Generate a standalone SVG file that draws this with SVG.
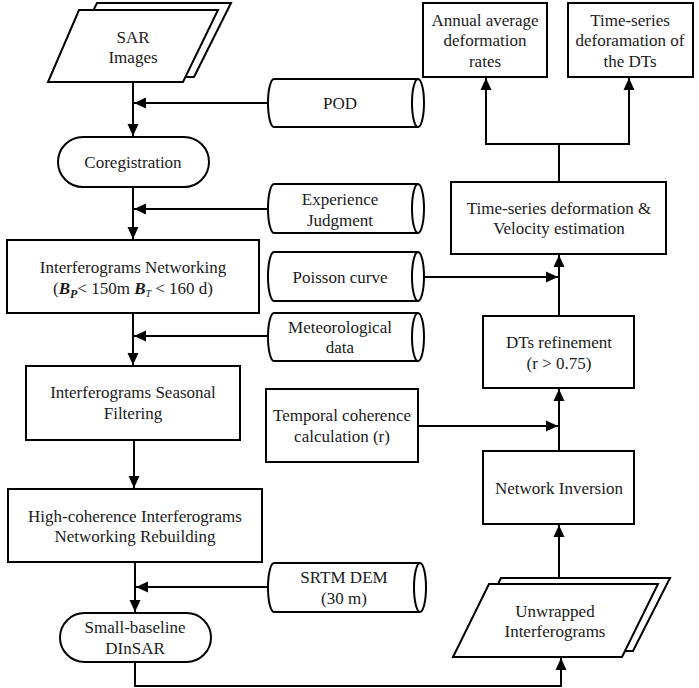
<svg xmlns="http://www.w3.org/2000/svg" width="699" height="688" viewBox="0 0 699 688">
<style>
.s{fill:#fff;stroke:#000;stroke-width:2}
.c{fill:none;stroke:#000;stroke-width:2}
text{font-family:"Liberation Serif","Times New Roman",serif;font-size:17px;fill:#1a1a1a;text-anchor:middle}
.bi{font-weight:bold;font-style:italic}
</style>
<defs>
<marker id="a" markerUnits="userSpaceOnUse" markerWidth="13" markerHeight="12" refX="12" refY="6" orient="auto">
<path d="M0,0.5 L12,6 L0,11.5 z" fill="#000"/>
</marker>
</defs>
<rect width="699" height="688" fill="#fff"/>
<g id="connectors">
<path class="c" d="M133,82 V136" marker-end="url(#a)"/>
<path class="c" d="M268,103 H134" marker-end="url(#a)"/>
<path class="c" d="M133,187 V239" marker-end="url(#a)"/>
<path class="c" d="M268,209 H134" marker-end="url(#a)"/>
<path class="c" d="M133,313 V365" marker-end="url(#a)"/>
<path class="c" d="M268,336 H134" marker-end="url(#a)"/>
<path class="c" d="M134,440 V488" marker-end="url(#a)"/>
<path class="c" d="M135,562 V612" marker-end="url(#a)"/>
<path class="c" d="M268,587 H136" marker-end="url(#a)"/>
<path class="c" d="M135,662 V686 H561 V658" marker-end="url(#a)"/>
<path class="c" d="M559,578 V525" marker-end="url(#a)"/>
<path class="c" d="M559,451 V389" marker-end="url(#a)"/>
<path class="c" d="M418,426 H558" marker-end="url(#a)"/>
<path class="c" d="M559,316 V255" marker-end="url(#a)"/>
<path class="c" d="M424,277 H558" marker-end="url(#a)"/>
<path class="c" d="M559,182 V144 H486 V78" marker-end="url(#a)"/>
<path class="c" d="M559,144 H629 V78" marker-end="url(#a)"/>
</g>
<g id="sar">
<polygon class="s" points="97,3 231,3 194,77 60,77"/>
<polygon class="s" points="79,10 218,10 183,82 48,82"/>
<text x="133" y="43">SAR</text>
<text x="133" y="63">Images</text>
</g>
<g id="pod">
<path class="s" d="M418,79 H274 A6,24 0 0 0 274,127 H418"/>
<ellipse class="s" cx="418" cy="103" rx="6" ry="24"/>
<text x="340" y="109">POD</text>
</g>
<g id="coreg">
<rect class="s" x="58" y="137" width="151" height="50" rx="25"/>
<text x="133" y="168">Coregistration</text>
</g>
<g id="experience">
<path class="s" d="M418,184 H274 A6,24.5 0 0 0 274,233 H418"/>
<ellipse class="s" cx="418" cy="208.5" rx="6" ry="24.5"/>
<text x="340" y="205">Experience</text>
<text x="340" y="226">Judgment</text>
</g>
<g id="networking">
<rect class="s" x="7" y="240" width="252" height="73"/>
<text x="133" y="273">Interferograms Networking</text>
<text x="133" y="294">(<tspan class="bi">B</tspan><tspan class="bi" font-size="12" dy="4">P</tspan><tspan dy="-4">&lt; 150m </tspan><tspan class="bi">B</tspan><tspan font-size="10" font-style="italic" dy="3">T</tspan><tspan dy="-3"> &lt; 160 d)</tspan></text>
</g>
<g id="poisson">
<path class="s" d="M418,252 H274 A6,24.5 0 0 0 274,301 H418"/>
<ellipse class="s" cx="418" cy="276.5" rx="6" ry="24.5"/>
<text x="340" y="283">Poisson curve</text>
</g>
<g id="meteo">
<path class="s" d="M418,313 H274 A6,24 0 0 0 274,361 H418"/>
<ellipse class="s" cx="418" cy="337" rx="6" ry="24"/>
<text x="340" y="333">Meteorological</text>
<text x="340" y="353">data</text>
</g>
<g id="seasonal">
<rect class="s" x="26" y="366" width="214" height="74"/>
<text x="133" y="398">Interferograms Seasonal</text>
<text x="133" y="419">Filtering</text>
</g>
<g id="temporal">
<rect class="s" x="266" y="389" width="152" height="73"/>
<text x="342" y="421">Temporal coherence</text>
<text x="342" y="442">calculation (r)</text>
</g>
<g id="highcoh">
<rect class="s" x="8" y="489" width="254" height="73"/>
<text x="135" y="522">High-coherence Interferograms</text>
<text x="135" y="542">Networking Rebuilding</text>
</g>
<g id="srtm">
<path class="s" d="M420,563 H274 A6,24.5 0 0 0 274,612 H420"/>
<ellipse class="s" cx="420" cy="587.5" rx="6" ry="24.5"/>
<text x="344" y="583">SRTM DEM</text>
<text x="344" y="604">(30 m)</text>
</g>
<g id="sbas">
<rect class="s" x="60" y="613" width="151" height="49" rx="24.5"/>
<text x="135" y="633">Small-baseline</text>
<text x="135" y="654">DInSAR</text>
</g>
<g id="unwrapped">
<polygon class="s" points="501,578 670,578 633,651 464,651"/>
<polygon class="s" points="489,584 658,584 622,657 453,657"/>
<text x="555" y="617">Unwrapped</text>
<text x="555" y="637">Interferograms</text>
</g>
<g id="inversion">
<rect class="s" x="483" y="451" width="151" height="73"/>
<text x="559" y="494">Network Inversion</text>
</g>
<g id="refinement">
<rect class="s" x="483" y="316" width="151" height="72"/>
<text x="559" y="348">DTs refinement</text>
<text x="559" y="369">(r &gt; 0.75)</text>
</g>
<g id="velocity">
<rect class="s" x="451" y="182" width="215" height="72"/>
<text x="559" y="214">Time-series deformation &amp;</text>
<text x="559" y="234">Velocity estimation</text>
</g>
<g id="annual">
<rect class="s" x="423" y="3" width="124" height="74"/>
<text x="485" y="26">Annual average</text>
<text x="485" y="46">deformation</text>
<text x="485" y="67">rates</text>
</g>
<g id="tsdts">
<rect class="s" x="568" y="3" width="125" height="74"/>
<text x="630" y="26">Time-series</text>
<text x="630" y="46">deforamation of</text>
<text x="630" y="67">the DTs</text>
</g>
</svg>
